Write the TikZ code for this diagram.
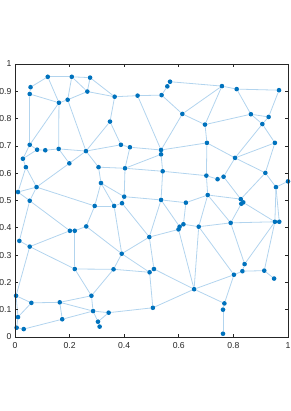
\documentclass[tikz,border=0pt]{standalone}
\usepackage{fontspec}
\setmainfont{Liberation Sans}
\usetikzlibrary{backgrounds}
\definecolor{mblue}{RGB}{0,114,189}
\definecolor{eblue}{RGB}{178,212,238}
\definecolor{axgray}{RGB}{38,38,38}

\begin{document}
\begin{tikzpicture}[x=6cm,y=6cm,every node/.style={inner sep=0pt},
    pt/.style={circle,fill=mblue,minimum size=2.9pt},
    lnk/.style={eblue,line width=0.5pt},
    tk/.style={font=\fontsize{5.4}{6}\selectfont,text=axgray}]
  \useasboundingbox (-0.0549,-0.2711) rectangle (1.0110,1.2344);
  % points
  \foreach \n/\x/\y in {1/0.120/0.953, 2/0.208/0.953, 3/0.275/0.950, 4/0.057/0.915,
      5/0.054/0.890, 6/0.265/0.899, 7/0.193/0.869, 8/0.161/0.858, 9/0.365/0.880,
      10/0.449/0.884, 11/0.348/0.789, 12/0.054/0.704, 13/0.081/0.686, 14/0.111/0.684,
      15/0.160/0.689, 16/0.260/0.681, 17/0.388/0.704, 18/0.421/0.695, 19/0.029/0.653,
      20/0.040/0.622, 21/0.199/0.636, 22/0.306/0.622, 23/0.403/0.618, 24/0.315/0.564,
      25/0.079/0.549, 26/0.011/0.531, 27/0.054/0.499, 28/0.400/0.514, 29/0.392/0.490,
      30/0.568/0.935, 31/0.558/0.918, 32/0.537/0.886, 33/0.758/0.919, 34/0.812/0.908,
      35/0.967/0.904, 36/0.613/0.817, 37/0.696/0.778, 38/0.864/0.816, 39/0.929/0.806,
      40/0.906/0.780, 41/0.703/0.711, 42/0.952/0.711, 43/0.535/0.685, 44/0.535/0.669,
      45/0.806/0.656, 46/0.541/0.607, 47/0.701/0.591, 48/0.742/0.578, 49/0.764/0.587,
      50/0.917/0.601, 51/1.000/0.570, 52/0.956/0.549, 53/0.706/0.520, 54/0.535/0.502,
      55/0.626/0.492, 56/0.827/0.505, 57/0.836/0.493, 58/0.829/0.488, 59/0.952/0.422,
      60/0.968/0.422, 61/0.790/0.418, 62/0.617/0.413, 63/0.603/0.404, 64/0.599/0.394,
      65/0.673/0.404, 66/0.492/0.366, 67/0.509/0.249, 68/0.493/0.237, 69/0.841/0.267,
      70/0.833/0.241, 71/0.802/0.228, 72/0.913/0.243, 73/0.949/0.214, 74/0.656/0.175,
      75/0.767/0.123, 76/0.762/0.100, 77/0.762/0.012, 78/0.505/0.107, 79/0.292/0.480,
      80/0.363/0.480, 81/0.201/0.389, 82/0.219/0.389, 83/0.261/0.405, 84/0.016/0.352,
      85/0.054/0.331, 86/0.391/0.305, 87/0.219/0.249, 88/0.361/0.248, 89/0.004/0.151,
      90/0.280/0.151, 91/0.060/0.125, 92/0.164/0.127, 93/0.286/0.095, 94/0.343/0.089,
      95/0.011/0.073, 96/0.173/0.065, 97/0.304/0.056, 98/0.310/0.038, 99/0.006/0.034,
      100/0.032/0.029}
    \node[pt] (p\n) at (\x,\y) {};
  % links
  \begin{scope}[on background layer]
  \foreach \a/\b in {1/2,1/4,1/8,2/3,2/6,2/7,3/6,3/9,4/5,5/8,5/12,6/7,6/9,7/8,7/16,
      8/12,8/15,9/10,9/11,10/32,10/43,11/16,11/17,12/13,12/19,13/14,13/19,14/15,
      15/16,15/21,16/17,16/21,16/22,17/18,18/23,18/43,19/20,20/25,20/26,21/25,
      22/23,22/24,23/28,23/44,23/46,24/28,24/79,24/80,25/26,25/27,25/79,26/27,
      27/81,27/84,28/29,28/54,29/80,29/66,
      30/31,30/33,31/32,32/36,33/34,33/36,33/37,34/35,34/38,35/39,36/37,36/43,
      37/38,37/41,38/39,38/40,39/40,40/42,40/45,41/43,41/45,41/47,42/45,42/50,
      43/44,44/46,45/49,45/50,46/47,46/54,47/48,47/53,48/49,49/56,50/52,50/56,
      51/52,52/59,52/60,53/55,53/56,53/61,53/65,54/55,54/63,54/66,55/62,56/57,
      57/58,57/59,58/61,59/60,59/61,59/69,59/72,61/65,61/69,62/63,62/65,63/64,
      64/66,64/74,65/71,65/74,66/67,66/86,67/68,67/74,68/78,68/86,68/88,69/70,
      70/71,70/72,71/74,71/75,72/73,74/75,74/78,75/76,76/77,78/94,
      79/80,79/83,80/86,81/82,81/85,82/83,82/87,83/86,84/85,85/87,85/89,86/88,
      87/88,87/90,88/90,89/91,89/95,90/92,90/93,91/92,91/95,92/93,92/96,93/94,
      93/96,93/97,94/97,95/99,96/100,97/98,99/100}
    \draw[lnk] (p\a) -- (p\b);
  \end{scope}
  % axes
  \draw[axgray,line width=0.4pt] (0,0) rectangle (1,1);
  \foreach \t [count=\i] in {0,0.1,0.2,0.3,0.4,0.5,0.6,0.7,0.8,0.9,1} {
    \draw[axgray,line width=0.4pt] (0,\t) -- (0.01,\t) (1,\t) -- (0.99,\t);
    \node[tk,anchor=east] (yl\i) at (-0.012,\t) {\t};
  }
  \foreach \t [count=\i] in {0,0.2,0.4,0.6,0.8,1} {
    \draw[axgray,line width=0.4pt] (\t,0) -- (\t,0.01) (\t,1) -- (\t,0.99);
    \node[tk,anchor=north] (xl\i) at (\t,-0.02) {\t};
  }
\end{tikzpicture}
\end{document}
